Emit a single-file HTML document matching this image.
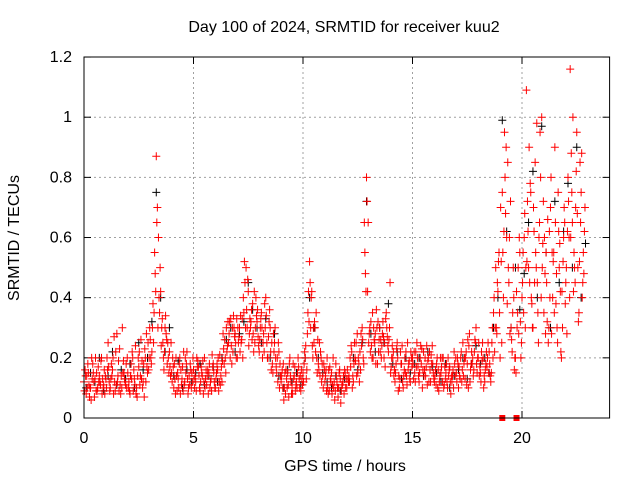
<!DOCTYPE html>
<html><head><meta charset="utf-8"><style>
body{margin:0;background:#fff}
svg text{font-family:"Liberation Sans",sans-serif;font-size:16px;fill:#000}
</style></head><body>
<svg id="chart" width="640" height="480" xmlns="http://www.w3.org/2000/svg">
<rect width="640" height="480" fill="#fff"/>
<text x="344" y="32" text-anchor="middle">Day 100 of 2024, SRMTID for receiver kuu2</text>
<text x="345" y="471" text-anchor="middle">GPS time / hours</text>
<text x="19" y="238" text-anchor="middle" transform="rotate(-90 19 238)">SRMTID / TECUs</text>
<g id="grid"></g>
<g id="ticks"></g>
<g id="black"></g>
<g id="red"></g>
<rect x="84" y="57" width="525.6" height="361" fill="none" stroke="#000" stroke-width="1"/>
</svg>
<script>
const xTicks=[0,5,10,15,20];
const yTicks=[0,0.2,0.4,0.6,0.8,1,1.2];
const yTickLabels=["0","0.2","0.4","0.6","0.8","1","1.2"];
const redA=[0.12,0.08,0.15,0.1,0.18,0.13,0.09,0.14,0.2,0.11,
0.13,0.25,0.1,0.16,0.12,0.28,0.09,0.14,0.19,0.11,
0.15,0.08,0.22,0.13,0.1,0.17,0.26,0.12,0.2,0.15,
0.3,0.22,0.35,0.87,0.6,0.42,0.25,0.3,0.18,0.22,
0.15,0.1,0.2,0.13,0.08,0.17,0.12,0.22,0.14,0.1,
0.16,0.12,0.19,0.09,0.14,0.2,0.11,0.15,0.13,0.18,
0.1,0.16,0.21,0.12,0.18,0.3,0.25,0.33,0.22,0.28,
0.2,0.3,0.26,0.35,0.5,0.42,0.3,0.38,0.25,0.32,
0.22,0.35,0.28,0.4,0.2,0.3,0.18,0.25,0.15,0.22,
0.12,0.18,0.08,0.15,0.2,0.1,0.14,0.12,0.17,0.09,
0.15,0.2,0.28,0.52,0.42,0.25,0.35,0.18,0.22,0.14,
0.12,0.2,0.09,0.15,0.1,0.18,0.07,0.13,0.11,0.16,
0.1,0.14,0.24,0.12,0.19,0.15,0.22,0.3,0.65,0.8,
0.25,0.32,0.2,0.28,0.18,0.3,0.24,0.2,0.35,0.22,
0.15,0.2,0.12,0.25,0.1,0.18,0.14,0.22,0.16,0.12,
0.2,0.15,0.25,0.12,0.18,0.22,0.14,0.19,0.16,0.24,
0.12,0.18,0.09,0.15,0.2,0.13,0.1,0.17,0.12,0.22,
0.15,0.1,0.2,0.25,0.13,0.18,0.28,0.22,0.16,0.3,
0.2,0.15,0.25,0.12,0.17,0.22,0.15,0.35,0.5,0.42,
0.2,0.75,0.95,0.6,0.45,0.3,0.5,0.2,0.35,0.55,
0.4,0.6,1.09,0.5,0.75,0.3,0.85,0.45,0.65,1.0,
0.35,0.55,0.25,0.7,0.4,0.9,0.3,0.5,0.2,0.6,
0.45,0.8,1.16,0.65,0.5,0.95,0.35,0.75,0.55];
const redB=[0.16,0.1,0.07,0.2,0.12,0.09,0.17,0.11,0.13,0.08,
0.2,0.12,0.18,0.08,0.22,0.14,0.11,0.3,0.13,0.1,
0.12,0.18,0.09,0.24,0.14,0.11,0.19,0.07,0.28,0.16,
0.2,0.38,0.48,0.7,0.35,0.3,0.16,0.28,0.2,0.14,
0.2,0.13,0.09,0.18,0.11,0.22,0.15,0.08,0.18,0.12,
0.1,0.2,0.14,0.17,0.08,0.13,0.16,0.1,0.21,0.12,
0.15,0.09,0.14,0.28,0.2,0.24,0.32,0.18,0.3,0.2,
0.25,0.34,0.2,0.45,0.3,0.28,0.36,0.22,0.4,0.27,
0.3,0.2,0.38,0.25,0.32,0.16,0.28,0.2,0.12,0.18,
0.16,0.1,0.13,0.07,0.12,0.18,0.09,0.15,0.1,0.13,
0.18,0.13,0.42,0.3,0.2,0.3,0.15,0.25,0.12,0.18,
0.16,0.08,0.13,0.11,0.06,0.12,0.15,0.09,0.14,0.1,
0.13,0.2,0.1,0.25,0.14,0.18,0.28,0.2,0.48,0.42,
0.3,0.2,0.26,0.36,0.22,0.26,0.32,0.17,0.27,0.3,
0.2,0.14,0.18,0.09,0.22,0.12,0.2,0.11,0.19,0.2,
0.13,0.22,0.17,0.2,0.1,0.16,0.24,0.12,0.21,0.15,
0.16,0.1,0.14,0.2,0.11,0.18,0.14,0.08,0.16,0.14,
0.2,0.14,0.12,0.18,0.22,0.1,0.16,0.2,0.26,0.15,
0.14,0.22,0.1,0.18,0.25,0.14,0.3,0.22,0.28,0.55,
0.52,0.4,0.68,0.85,0.28,0.22,0.16,0.42,0.28,0.2,
0.55,0.3,0.72,0.45,0.38,0.62,0.5,0.25,0.8,0.58,
0.48,0.32,0.62,0.28,0.55,0.38,0.75,0.42,0.3,0.65,
0.28,0.6,0.88,0.42,0.7,0.5,0.85,0.4,0.62];
const redC=[0.09,0.14,0.11,0.06,0.15,0.2,0.1,0.12,0.08,0.16,
0.1,0.17,0.13,0.2,0.09,0.12,0.23,0.1,0.15,0.18,
0.1,0.14,0.2,0.11,0.07,0.22,0.13,0.18,0.12,0.25,
0.26,0.3,0.55,0.65,0.4,0.24,0.2,0.34,0.25,0.17,
0.12,0.18,0.14,0.1,0.16,0.09,0.2,0.13,0.11,0.15,
0.13,0.09,0.17,0.12,0.19,0.1,0.14,0.18,0.09,0.15,
0.13,0.2,0.11,0.19,0.26,0.22,0.28,0.24,0.34,0.25,
0.3,0.22,0.33,0.52,0.36,0.24,0.32,0.28,0.3,0.36,
0.26,0.3,0.22,0.34,0.27,0.22,0.15,0.3,0.2,0.1,
0.14,0.06,0.16,0.11,0.14,0.08,0.17,0.1,0.13,0.16,
0.12,0.24,0.35,0.45,0.24,0.32,0.2,0.16,0.2,0.1,
0.14,0.1,0.17,0.08,0.12,0.14,0.1,0.05,0.12,0.15,
0.16,0.12,0.22,0.18,0.25,0.2,0.16,0.26,0.55,0.72,
0.28,0.24,0.3,0.18,0.32,0.22,0.28,0.25,0.3,0.26,
0.17,0.22,0.15,0.2,0.13,0.24,0.16,0.14,0.18,0.22,
0.18,0.12,0.2,0.15,0.23,0.14,0.17,0.2,0.12,0.18,
0.14,0.2,0.12,0.17,0.1,0.15,0.2,0.12,0.14,0.18,
0.12,0.17,0.22,0.14,0.2,0.26,0.12,0.18,0.22,0.18,
0.25,0.12,0.2,0.16,0.2,0.18,0.25,0.4,0.3,0.52,
0.7,0.55,0.8,0.38,0.6,0.26,0.4,0.15,0.5,0.32,
0.45,0.68,0.52,0.9,0.4,0.7,0.55,0.35,0.95,0.5,
0.6,0.45,0.3,0.8,0.52,0.65,0.25,0.58,0.42,0.7,
0.5,0.72,0.6,1.0,0.45,0.68,0.52,0.88,0.48];
const redD=[0.14,0.18,0.1,0.13,0.07,0.15,0.12,0.19,0.1,0.14,
0.16,0.09,0.14,0.27,0.11,0.19,0.08,0.15,0.12,0.2,
0.09,0.13,0.16,0.08,0.2,0.14,0.1,0.23,0.17,0.2,
0.18,0.25,0.42,0.3,0.5,0.33,0.22,0.26,0.15,0.25,
0.17,0.08,0.15,0.2,0.13,0.11,0.18,0.1,0.16,0.2,
0.14,0.17,0.1,0.15,0.12,0.16,0.08,0.12,0.17,0.1,
0.18,0.12,0.17,0.23,0.15,0.32,0.2,0.3,0.27,0.33,
0.27,0.25,0.4,0.3,0.46,0.33,0.26,0.42,0.34,0.24,
0.33,0.25,0.3,0.2,0.36,0.25,0.22,0.17,0.25,0.14,
0.1,0.15,0.1,0.18,0.08,0.13,0.11,0.2,0.14,0.11,
0.22,0.16,0.32,0.4,0.3,0.22,0.26,0.14,0.18,0.16,
0.09,0.16,0.12,0.2,0.09,0.1,0.16,0.11,0.08,0.13,
0.12,0.17,0.14,0.2,0.28,0.12,0.24,0.18,0.42,0.65,
0.22,0.35,0.25,0.3,0.26,0.2,0.27,0.33,0.24,0.45,
0.24,0.16,0.23,0.14,0.18,0.1,0.15,0.25,0.13,0.17,
0.22,0.17,0.14,0.24,0.16,0.2,0.11,0.22,0.18,0.13,
0.11,0.16,0.2,0.12,0.17,0.12,0.16,0.14,0.1,0.2,
0.18,0.13,0.16,0.2,0.11,0.24,0.18,0.14,0.25,0.2,
0.17,0.19,0.14,0.22,0.15,0.12,0.2,0.3,0.45,0.35,
0.25,0.62,0.9,0.5,0.72,0.35,0.2,0.3,0.6,0.25,
0.35,0.5,0.62,0.78,0.3,0.45,0.98,0.6,0.4,0.72,
0.28,0.66,0.4,0.55,0.35,0.48,0.62,0.22,0.52,0.38,
0.62,0.4,0.75,0.55,0.82,0.32,0.65,0.45,0.7];
const blackVals=[0.1,0.15,0.12,0.2,0.09,0.14,0.22,0.11,0.16,0.13,
0.18,0.1,0.25,0.16,0.2,0.32,0.75,0.4,0.22,0.3,
0.14,0.19,0.1,0.16,0.12,0.15,0.18,0.11,0.14,0.17,
0.12,0.2,0.26,0.3,0.22,0.28,0.32,0.45,0.36,0.3,
0.25,0.33,0.2,0.28,0.14,0.1,0.16,0.12,0.15,0.11,
0.2,0.4,0.3,0.2,0.15,0.12,0.1,0.14,0.09,0.13,
0.12,0.2,0.16,0.25,0.72,0.28,0.22,0.3,0.25,0.38,
0.18,0.22,0.13,0.2,0.15,0.18,0.2,0.14,0.22,0.17,
0.15,0.12,0.18,0.1,0.14,0.16,0.2,0.13,0.18,0.24,
0.18,0.2,0.15,0.3,0.4,0.99,0.62,0.3,0.5,0.36,
0.48,0.65,0.82,0.4,0.97,0.55,0.3,0.72,0.45,0.62,
0.78,0.5,0.9,0.4,0.58];
const zeroTimes=[19.1,19.75];

const NS="http://www.w3.org/2000/svg";
const X=t=>84+t*21.9;
const Y=v=>418-v*300.8;
function mk(tag,attrs,parent){const e=document.createElementNS(NS,tag);for(const k in attrs)e.setAttribute(k,attrs[k]);parent.appendChild(e);return e;}
const grid=document.getElementById('grid'),ticks=document.getElementById('ticks');
xTicks.forEach(t=>{
  if(t>0){const g=mk('line',{x1:X(t),x2:X(t),y1:57,y2:418,stroke:'#a0a0a0','stroke-dasharray':'2,3'},grid);
  
  }
  mk('line',{x1:X(t),x2:X(t),y1:418,y2:411,stroke:'#000'},ticks);
  mk('line',{x1:X(t),x2:X(t),y1:57,y2:64,stroke:'#000'},ticks);
  const l=mk('text',{x:X(t),y:443,'text-anchor':'middle'},ticks);l.textContent=t;
  
  
});
yTicks.forEach((v,i)=>{
  if(v>0&&v<1.2){const g=mk('line',{x1:84,x2:609.6,y1:Y(v),y2:Y(v),stroke:'#a0a0a0','stroke-dasharray':'2,3'},grid);
  
  }
  mk('line',{x1:84,x2:91,y1:Y(v),y2:Y(v),stroke:'#000'},ticks);
  mk('line',{x1:609.6,x2:602.6,y1:Y(v),y2:Y(v),stroke:'#000'},ticks);
  const l=mk('text',{x:72,y:Y(v)+5,'text-anchor':'end'},ticks);l.textContent=yTickLabels[i];
  
  
});
function plus(g,t,v,col){
  const x=X(t),y=Y(v);
  const p=mk('path',{d:`M${x-4},${y}H${x+4}M${x},${y-4}V${y+4}`,stroke:col,'stroke-width':1,fill:'none'},g);
  
  
}
const bg=document.getElementById('black'),rg=document.getElementById('red');
blackVals.forEach((v,i)=>plus(bg,i*0.2+0.1,v,'#000'));
redA.forEach((v,i)=>plus(rg,i*0.1,v,'#f00'));
redB.forEach((v,i)=>plus(rg,i*0.1+0.05,v,'#f00'));
redC.forEach((v,i)=>plus(rg,i*0.1+0.025,v,'#f00'));
redD.forEach((v,i)=>plus(rg,i*0.1+0.075,v,'#f00'));
zeroTimes.forEach(t=>{
  const r=mk('rect',{x:X(t)-3,y:Y(0)-3,width:6,height:6,fill:'#f00'},rg);
  
  
});
</script>
</body></html>
